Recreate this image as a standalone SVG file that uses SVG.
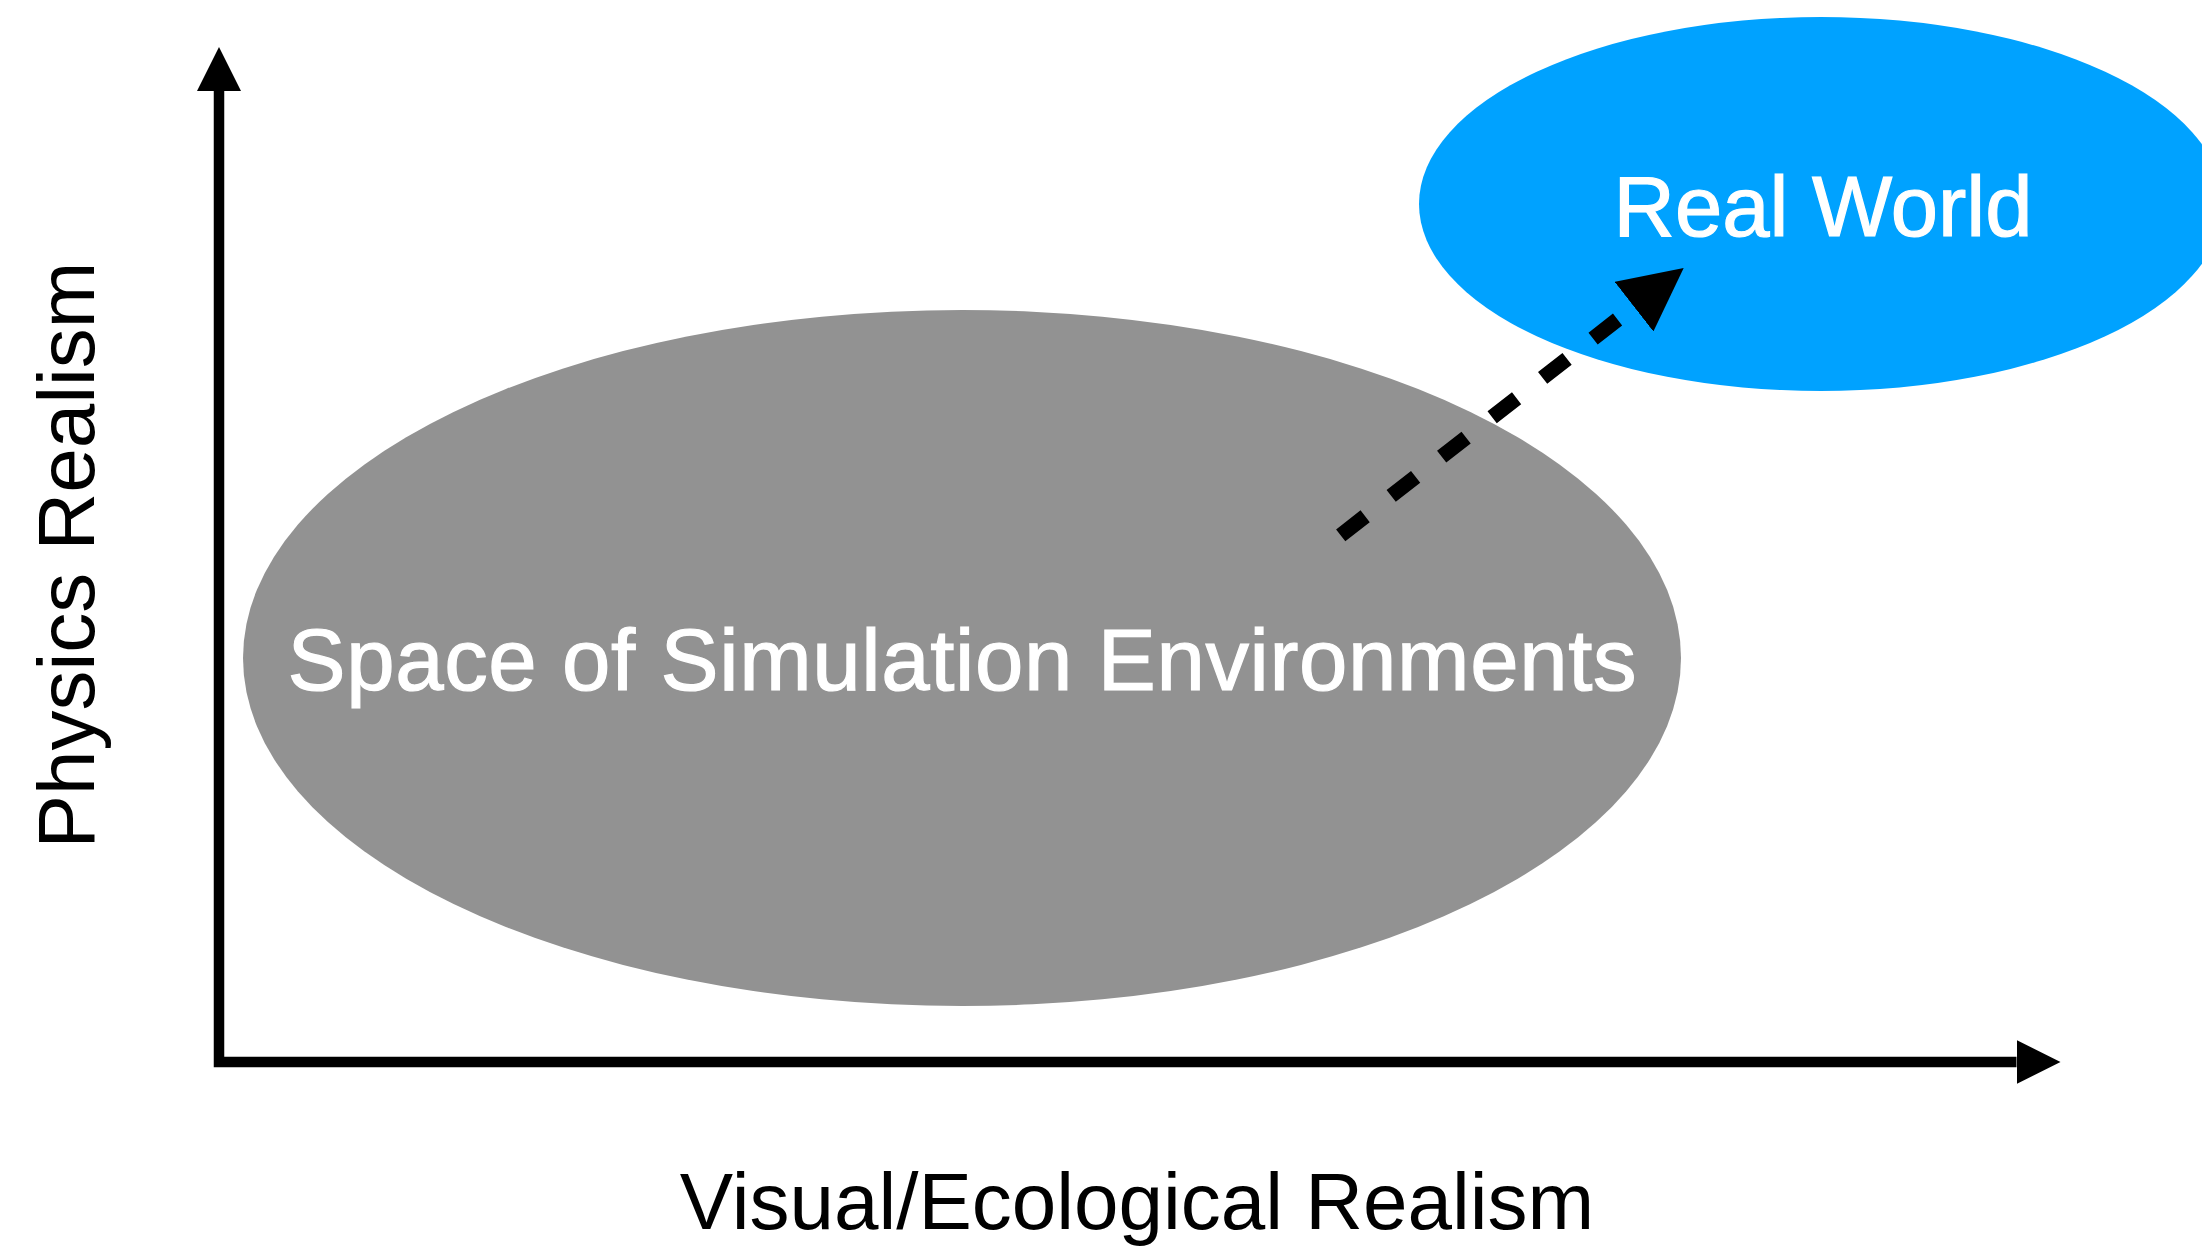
<svg xmlns="http://www.w3.org/2000/svg" width="2202" height="1246" viewBox="0 0 2202 1246">
  <style>
    .label { font-family: "Liberation Sans", Arial, Helvetica, sans-serif; }
    .axis-label { fill: #000000; font-size: 80px; }
    .node-label { fill: #ffffff; stroke: #ffffff; stroke-width: 1.2; }
    .axis { fill: none; stroke: #000000; stroke-width: 10.5; stroke-linejoin: miter; stroke-linecap: butt; }
    .dashed { fill: none; stroke: #000000; stroke-width: 15; stroke-dasharray: 31 33; stroke-linecap: butt; }
  </style>
  <defs>
    <marker id="axisHead" markerUnits="userSpaceOnUse" markerWidth="44" markerHeight="44" viewBox="0 0 44 44" refX="0" refY="22" orient="auto-start-reverse">
      <path d="M0,0 L44,22 L0,44 Z" fill="#000000"/>
    </marker>
    <marker id="dashHead" markerUnits="userSpaceOnUse" markerWidth="63" markerHeight="63" viewBox="0 0 63 63" refX="0" refY="31.5" orient="auto">
      <path d="M0,0 L63,31.5 L0,63 Z" fill="#000000"/>
    </marker>
  </defs>
  <rect x="0" y="0" width="2202" height="1246" fill="#ffffff"/>

  <g id="node-simulation-space">
    <ellipse cx="962" cy="658" rx="719" ry="348" fill="#929292"/>
    <text class="label node-label" x="962" y="690" font-size="87" text-anchor="middle" textLength="1349" lengthAdjust="spacing">Space of Simulation Environments</text>
  </g>

  <g id="node-real-world">
    <ellipse cx="1821" cy="204" rx="402" ry="187" fill="#00A2FF"/>
    <text class="label node-label" x="1823" y="235.5" font-size="85" text-anchor="middle">Real World</text>
  </g>

  <g id="connectors">
    <path id="axes" class="axis" d="M219,91 L219,1062 L2016.5,1062" marker-start="url(#axisHead)" marker-end="url(#axisHead)"/>
    <path id="sim-to-real" class="dashed" d="M1340.7,535.3 L1634,306.7" marker-end="url(#dashHead)"/>
  </g>

  <g id="axis-labels">
    <text class="label axis-label" x="1137" y="1229" text-anchor="middle">Visual/Ecological Realism</text>
    <text class="label axis-label" transform="translate(94,555) rotate(-90)" x="0" y="0" text-anchor="middle">Physics Realism</text>
  </g>
</svg>
